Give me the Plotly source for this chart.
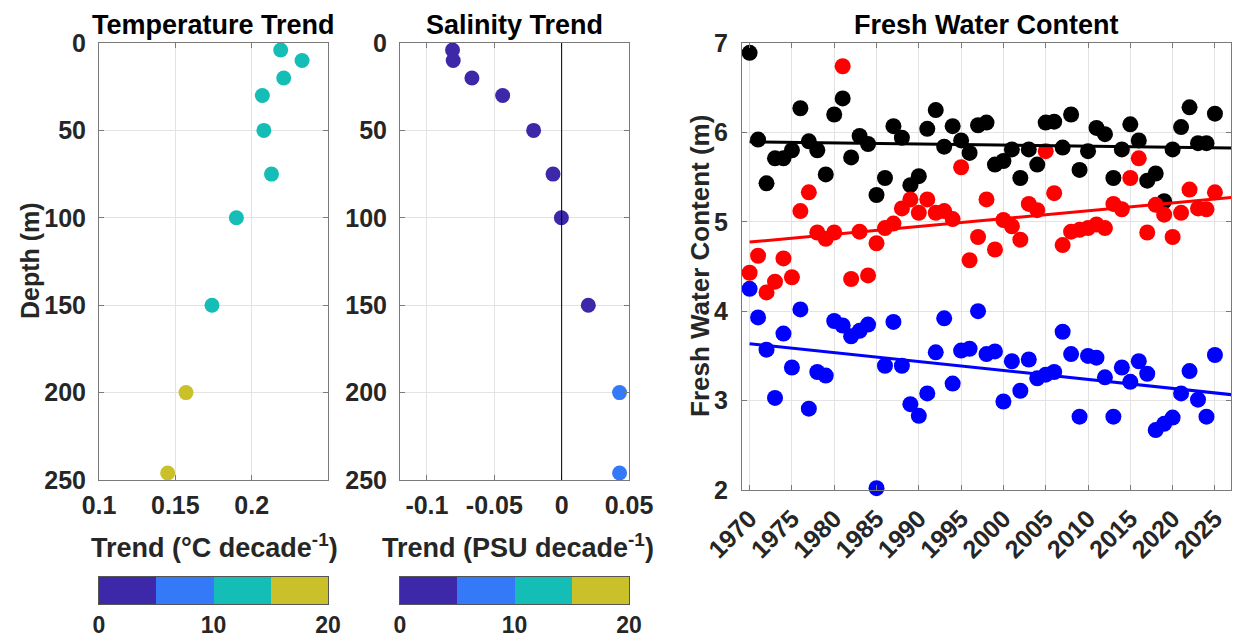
import numpy as np
import plotly.graph_objects as go

# ---------------- data ----------------
depth = [4, 10, 20, 30, 50, 75, 100, 150, 200, 246]
temp_trend = [0.219, 0.233, 0.221, 0.207, 0.208, 0.213, 0.190, 0.174, 0.157, 0.145]
temp_colour = [12.5, 12.5, 12.5, 12.5, 12.5, 12.5, 12.5, 12.5, 17.5, 17.5]
sal_trend = [-0.081, -0.0805, -0.0666, -0.0438, -0.0208, -0.0064, -0.0002, 0.0198, 0.043, 0.043]
sal_colour = [2.5, 2.5, 2.5, 2.5, 2.5, 2.5, 2.5, 2.5, 7.5, 7.5]

years = list(range(1970, 2026))
fwc_black = [6.89, 5.92, 5.43, 5.71, 5.71, 5.80, 6.27, 5.90, 5.80, 5.53,
             6.20, 6.38, 5.72, 5.96, 5.87, 5.30, 5.49, 6.07, 5.94, 5.41,
             5.51, 6.04, 6.25, 5.84, 6.07, 5.91, 5.77, 6.08, 6.11, 5.64,
             5.68, 5.81, 5.49, 5.81, 5.64, 6.11, 6.12, 5.83, 6.20, 5.58,
             5.79, 6.05, 5.98, 5.49, 5.81, 6.09, 5.91, 5.46, 5.54, 5.23,
             5.81, 6.06, 6.28, 5.88, 5.88, 6.21]
fwc_red = [4.43, 4.62, 4.21, 4.33, 4.59, 4.38, 5.12, 5.33, 4.88, 4.81,
           4.88, 6.74, 4.36, 4.89, 4.40, 4.76, 4.93, 4.98, 5.15, 5.25,
           5.10, 5.25, 5.10, 5.12, 5.03, 5.61, 4.57, 4.83, 5.25, 4.69,
           5.02, 4.95, 4.80, 5.20, 5.13, 5.79, 5.32, 4.74, 4.89, 4.91,
           4.93, 4.97, 4.93, 5.20, 5.14, 5.49, 5.71, 4.88, 5.19, 5.08,
           4.83, 5.10, 5.36, 5.15, 5.14, 5.33]
fwc_blue = [4.25, 3.93, 3.57, 3.03, 3.75, 3.37, 4.02, 2.91, 3.32, 3.28,
            3.89, 3.84, 3.72, 3.78, 3.85, 2.02, 3.39, 3.88, 3.39, 2.96,
            2.83, 3.08, 3.54, 3.92, 3.19, 3.56, 3.58, 4.00, 3.52, 3.55,
            2.99, 3.44, 3.11, 3.46, 3.25, 3.29, 3.32, 3.77, 3.52, 2.82,
            3.50, 3.48, 3.26, 2.82, 3.37, 3.21, 3.44, 3.30, 2.67, 2.74,
            2.81, 3.08, 3.33, 3.01, 2.82, 3.51]

cbar_centres = [2.5, 7.5, 12.5, 17.5]
cbar_ticks = [0, 10, 20]
temp_ticks = [0.1, 0.15, 0.2]
sal_ticks = [-0.1, -0.05, 0, 0.05]
depth_ticks = [0, 50, 100, 150, 200, 250]
year_ticks = list(range(1970, 2026, 5))
fwc_ticks = [2, 3, 4, 5, 6, 7]

# ---------------- style ----------------
W, H = 1236, 639
PARULA4 = ["#3d28a9", "#3479f8", "#14bdb6", "#cac12a"]
cscale = [[0, PARULA4[0]], [0.25, PARULA4[0]], [0.25, PARULA4[1]], [0.5, PARULA4[1]],
          [0.5, PARULA4[2]], [0.75, PARULA4[2]], [0.75, PARULA4[3]], [1, PARULA4[3]]]
FONT = "Liberation Sans, Arial, Helvetica, sans-serif"
TXT = "#262626"
GRID = "#e3e3e3"
AXC = "#7a7a7a"
TICK_SIZE = 25


def dx(a, b):
    return [a / W, b / W]


def dy(top, bottom):
    return [1 - bottom / H, 1 - top / H]


fig = go.Figure()

# temperature
fig.add_trace(go.Scatter(x=temp_trend, y=depth, mode="markers", xaxis="x", yaxis="y",
                         marker=dict(size=15, color=temp_colour, colorscale=cscale, cmin=0, cmax=20),
                         showlegend=False, cliponaxis=False))
# salinity
fig.add_trace(go.Scatter(x=sal_trend, y=depth, mode="markers", xaxis="x2", yaxis="y2",
                         marker=dict(size=15, color=sal_colour, colorscale=cscale, cmin=0, cmax=20),
                         showlegend=False, cliponaxis=False))

# fresh water content
yrs = np.array(years, dtype=float)
line_x = np.array([1970, 2027], dtype=float)
for vals, col in [(fwc_black, "black"), (fwc_red, "#ff0000"), (fwc_blue, "#0000ff")]:
    fig.add_trace(go.Scatter(x=years, y=vals, mode="markers", xaxis="x3", yaxis="y3",
                             marker=dict(size=16, color=col), showlegend=False, cliponaxis=False))
for vals, col in [(fwc_black, "black"), (fwc_red, "#ff0000"), (fwc_blue, "#0000ff")]:
    p = np.polyfit(yrs, np.array(vals), 1)
    fig.add_trace(go.Scatter(x=line_x, y=np.polyval(p, line_x), mode="lines", xaxis="x3", yaxis="y3",
                             line=dict(color=col, width=3), showlegend=False))

# colour bars
for xa, ya in [("x4", "y4"), ("x5", "y5")]:
    fig.add_trace(go.Heatmap(x=cbar_centres, y=[0], z=[cbar_centres], xaxis=xa, yaxis=ya,
                             colorscale=cscale, zmin=0, zmax=20, showscale=False, hoverinfo="skip"))

tfont = dict(family=FONT, size=TICK_SIZE, color=TXT, weight="bold")
common = dict(showline=True, linecolor=AXC, linewidth=1, mirror="ticks", ticks="inside",
              ticklen=5, tickcolor=AXC, gridcolor=GRID, gridwidth=1, zeroline=False,
              automargin=False, tickfont=tfont)
cb_x = dict(range=[0, 20], tickvals=cbar_ticks, showline=True, linecolor="#555555", mirror=True,
            ticks="", showgrid=False, zeroline=False, ticklabelstandoff=0, automargin=False,
            tickfont=dict(family=FONT, size=23, color=TXT, weight="bold"))
cb_y = dict(range=[-0.5, 0.5], showticklabels=False, showline=True, linecolor="#555555",
            mirror=True, ticks="", showgrid=False, zeroline=False, automargin=False)

fig.update_layout(
    width=W, height=H, margin=dict(l=0, r=0, t=0, b=0, autoexpand=False),
    paper_bgcolor="white", plot_bgcolor="white",
    font=dict(family=FONT, color=TXT, weight="bold"),
    xaxis=dict(domain=dx(99, 328), range=[0.1, 0.25], tickvals=temp_ticks,
               ticktext=["0.1", "0.15", "0.2"], anchor="y", ticklabelstandoff=3, **common),
    yaxis=dict(domain=dy(43, 480), range=[250, 0], tickvals=depth_ticks, anchor="x",
               ticklabelstandoff=7, **common),
    xaxis2=dict(domain=dx(400, 629), range=[-0.12, 0.05], tickvals=sal_ticks,
                ticktext=["-0.1", "-0.05", "0", "0.05"], anchor="y2", ticklabelstandoff=3, **common),
    yaxis2=dict(domain=dy(43, 480), range=[250, 0], tickvals=depth_ticks, anchor="x2",
                ticklabelstandoff=7, **common),
    xaxis3=dict(domain=dx(742, 1231), range=[1969.1, 2026.9], tickvals=year_ticks,
                tickangle=-45, anchor="y3", ticklabelstandoff=3, **common),
    yaxis3=dict(domain=dy(43, 490), range=[2, 7], tickvals=fwc_ticks, anchor="x3",
                ticklabelstandoff=8, **common),
    xaxis4=dict(domain=dx(99, 328), anchor="y4", **cb_x),
    yaxis4=dict(domain=dy(577, 604), anchor="x4", **cb_y),
    xaxis5=dict(domain=dx(400, 629), anchor="y5", **cb_x),
    yaxis5=dict(domain=dy(577, 604), anchor="x5", **cb_y),
)

# zero line on salinity panel
fig.add_shape(type="line", xref="x2", yref="paper", x0=0, x1=0,
              y0=dy(43, 480)[0], y1=dy(43, 480)[1], line=dict(color="black", width=1))

ann = []


def text(x, y, s, size, angle=0, color="black"):
    ann.append(dict(x=x / W, y=1 - y / H, xref="paper", yref="paper", text=s, showarrow=False,
                    textangle=angle, xanchor="center", yanchor="middle",
                    font=dict(family=FONT, size=size, color=color, weight="bold")))


text(213.5, 25, "Temperature Trend", 27)
text(514.5, 25, "Salinity Trend", 27)
text(986.5, 25, "Fresh Water Content", 27)
text(30, 261, "Depth (m)", 25, -90, TXT)
text(700, 266, "Fresh Water Content (m)", 26, -90, TXT)
text(214, 546, "Trend (°C decade<sup>-1</sup>)", 27, 0, TXT)
text(518, 546, "Trend (PSU decade<sup>-1</sup>)", 27, 0, TXT)
fig.update_layout(annotations=ann)

fig.write_html("out.html", config={"displayModeBar": False},
               post_script="document.body.style.margin='0';")
